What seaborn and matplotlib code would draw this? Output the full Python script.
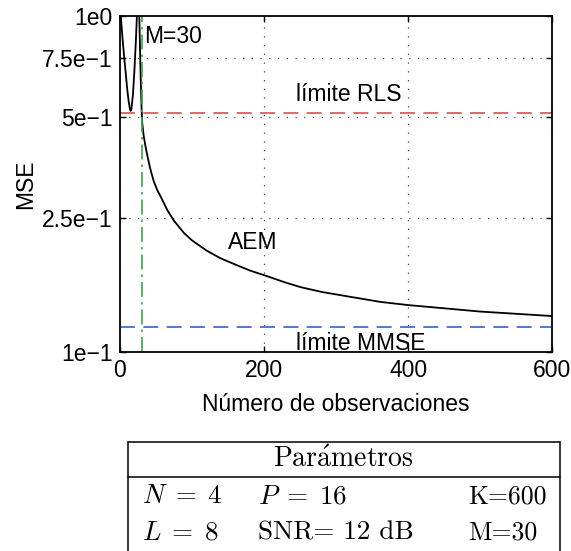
import numpy as np
import pandas as pd
import seaborn as sns
import matplotlib
matplotlib.use("Agg")
import matplotlib.pyplot as plt
from matplotlib.lines import Line2D

# Mean squared error of the AEM estimator versus number of observations
observations = [0, 1, 2, 4, 6, 8, 10, 12, 14, 15, 16, 18, 20, 22, 23, 24, 25,
                26, 27, 28, 29, 30, 31, 33, 35, 38, 42, 47, 52, 57, 66, 75, 89,
                100, 121, 140, 158, 180, 205, 230, 251, 280, 320, 362, 400, 450,
                500, 550, 600]
mse_aem = [1.15, 1.02, 0.95, 0.84, 0.75, 0.68, 0.61, 0.56, 0.527, 0.522, 0.53,
           0.58, 0.68, 0.83, 0.93, 1.05, 1.25, 1.25, 0.98, 0.78, 0.64, 0.535,
           0.48, 0.44, 0.415, 0.385, 0.352, 0.322, 0.303, 0.289, 0.264, 0.246,
           0.226, 0.215, 0.200, 0.190, 0.183, 0.175, 0.168, 0.161, 0.156,
           0.151, 0.146, 0.141, 0.138, 0.135, 0.132, 0.130, 0.128]

rls_limit = 0.515
mmse_limit = 0.119
m_window = 30

y_ticks = [0.1, 0.25, 0.5, 0.75, 1.0]
y_tick_labels = ["1e\u22121", "2.5e\u22121", "5e\u22121", "7.5e\u22121", "1e0"]
x_ticks = [0, 200, 400, 600]

param_header = r"$\mathrm{Par\acute{a}metros}$"
# (text, is_math, size) per cell
param_rows = [
    [(r"$N\;=\;4$", True, 19.5), (r"$P\;=\;16$", True, 19.5), ("K=600", False, 18.5)],
    [(r"$L\;=\;8$", True, 19.5), ("SNR= 12 dB", False, 19.5), ("M=30", False, 18.5)],
]

sns.set_theme(style="ticks")
plt.rcParams["font.family"] = ["Liberation Sans", "DejaVu Sans"]
plt.rcParams["mathtext.fontset"] = "cm"
plt.rcParams["text.color"] = "black"
plt.rcParams["axes.labelcolor"] = "black"

df = pd.DataFrame({"n": observations, "mse": mse_aem})

fig = plt.figure(figsize=(5.71, 5.51), dpi=100)
ax = fig.add_axes([0.210, 0.361, 0.757, 0.610])

sns.lineplot(data=df, x="n", y="mse", ax=ax, color="black", linewidth=1.3,
             estimator=None, sort=False)

ax.axhline(rls_limit, color="#d8504a", linewidth=1.2, linestyle=(0, (9, 5)))
ax.axhline(mmse_limit, color="#3c5fc4", linewidth=1.2, linestyle=(0, (9, 5)))
ax.axvline(m_window, color="#3fa050", linewidth=1.2,
           linestyle=(0, (9, 3, 1.5, 3)))

ax.set_yscale("log")
ax.set_xlim(0, 600)
ax.set_ylim(0.1, 1.0)
ax.set_yticks(y_ticks)
ax.set_yticklabels(y_tick_labels)
ax.yaxis.set_minor_locator(matplotlib.ticker.NullLocator())
ax.set_xticks(x_ticks)

for v in x_ticks[1:-1]:
    ax.axvline(v, color="#444444", linewidth=0.9, linestyle=(0, (1, 6)), zorder=0)
for v in y_ticks[1:-1]:
    ax.axhline(v, color="#444444", linewidth=0.9, linestyle=(0, (1, 6)), zorder=0)

for s in ax.spines.values():
    s.set_visible(True)
    s.set_linewidth(1.3)
    s.set_color("black")
ax.tick_params(direction="in", length=4, width=1, top=True, right=True,
               labelsize=16.5, colors="black", pad=5)
ax.set_xlabel("Número de observaciones", fontsize=16.5, labelpad=8)
ax.set_ylabel("MSE", fontsize=16.5, labelpad=4)

ax.text(33, 0.87, "M=30", fontsize=16.5, ha="left", va="center")
ax.text(318, 0.585, "límite RLS", fontsize=16.5, ha="center", va="center")
ax.text(184, 0.212, "AEM", fontsize=16.5, ha="center", va="center")
ax.text(335, 0.1058, "límite MMSE", fontsize=16.5, ha="center", va="center")

# Parameter table below the plot
W, H = 571, 551
def fx(px):
    return px / W
def fy(py):
    return 1 - py / H

left, right, top, sep = 128, 560, 442, 477
for xs, ys in [([left, right], [top, top]), ([left, right], [sep, sep]),
               ([left, left], [top, H + 10]), ([right, right], [top, H + 10])]:
    fig.add_artist(Line2D([fx(x) for x in xs], [fy(y) for y in ys],
                          color="black", linewidth=1.1))

fig.text(fx(343), fy(467), param_header, fontsize=20,
         ha="center", va="baseline")
col_x = [142, 258, 468]
row_y = [503, 540]
for r, row in enumerate(param_rows):
    for c, (txt, is_math, size) in enumerate(row):
        kw = {} if is_math else {"family": "cmr10"}
        fig.text(fx(col_x[c]), fy(row_y[r]), txt, fontsize=size,
                 ha="left", va="baseline", **kw)

fig.savefig("out.png", dpi=100)
